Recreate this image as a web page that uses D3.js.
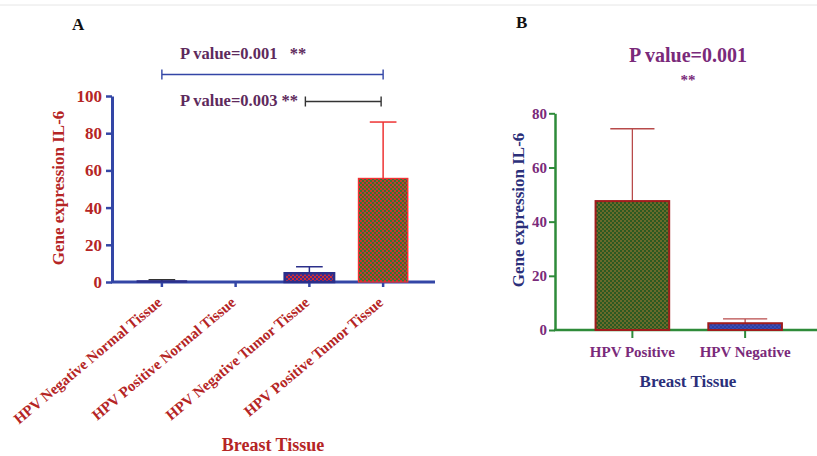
<!DOCTYPE html>
<html>
<head>
<meta charset="utf-8">
<script src="https://cdn.jsdelivr.net/npm/d3@7"></script>
<style>
  body { margin: 0; background: #fff; }
  text { font-family: "Liberation Serif", "Times New Roman", serif; font-weight: bold; }
</style>
</head>
<body>
<div id="chart"></div>
<script>
// Panel A data
var catsA = ["HPV Negative Normal Tissue", "HPV Positive Normal Tissue", "HPV Negative Tumor Tissue", "HPV Positive Tumor Tissue"];
var meansA = [0.6, 0, 4.7, 55.7];
var sdA = [0.6, 0, 3.5, 30.3];
var ticksA = [0, 20, 40, 60, 80, 100];

// Panel B data
var catsB = ["HPV Positive", "HPV Negative"];
var meansB = [47.6, 2.5];
var sdB = [26.7, 1.6];
var ticksB = [0, 20, 40, 60, 80];

var svg = d3.select("#chart")
    .append("svg")
    .attr("width", 817)
    .attr("height", 456);

// fill patterns (2px checker)
var defs = svg.append("defs");
function checker(id, c1, c2) {
    var p = defs.append("pattern")
        .attr("id", id)
        .attr("width", 4)
        .attr("height", 4)
        .attr("patternUnits", "userSpaceOnUse");
    p.append("rect").attr("width", 4).attr("height", 4).attr("fill", c1);
    p.append("rect").attr("width", 2).attr("height", 2).attr("fill", c2);
    p.append("rect").attr("x", 2).attr("y", 2).attr("width", 2).attr("height", 2).attr("fill", c2);
}
checker("greenRed", "#2f7a34", "#d0302e");
checker("greenDark", "#2c5a22", "#6a6a2a");
checker("redBlue", "#d02a3a", "#3a2f8a");
checker("blueFill", "#2f3fa0", "#3b4cb4");

// frame line at top
svg.append("line")
    .attr("x1", 0).attr("x2", 817)
    .attr("y1", 5).attr("y2", 5)
    .attr("stroke", "#e6e6e6");

// ---------------- Panel A ----------------
var yA = d3.scaleLinear().domain([0, 100]).range([282, 96]);
var xA = d3.scaleBand().domain(catsA).range([125, 420]).paddingInner(0.33).paddingOuter(0.165);

var blueA = "#3346a6";
var redA = "#b52525";

svg.append("text")
    .attr("x", 72).attr("y", 30)
    .style("font-size", "17px")
    .attr("fill", "#111")
    .text("A");

// y axis
var gyA = svg.append("g")
    .attr("transform", "translate(112,0)")
    .call(d3.axisLeft(yA).tickValues(ticksA).tickSize(6).tickSizeOuter(0));
gyA.select(".domain").attr("stroke", blueA).attr("stroke-width", 3);
gyA.selectAll(".tick line").attr("stroke", blueA).attr("stroke-width", 2.5);
gyA.selectAll(".tick text")
    .attr("fill", redA)
    .attr("x", -10)
    .style("font-size", "17px")
    .style("font-family", "Liberation Serif, serif")
    .style("font-weight", "bold");

// x axis
svg.append("line")
    .attr("x1", 111).attr("x2", 435)
    .attr("y1", yA(0)).attr("y2", yA(0))
    .attr("stroke", blueA).attr("stroke-width", 3);
svg.selectAll(".xtickA")
    .data(catsA)
    .enter()
    .append("line")
    .attr("x1", d => xA(d) + xA.bandwidth() / 2)
    .attr("x2", d => xA(d) + xA.bandwidth() / 2)
    .attr("y1", yA(0))
    .attr("y2", yA(0) + 5)
    .attr("stroke", blueA)
    .attr("stroke-width", 2.5);

svg.selectAll(".xlabA")
    .data(catsA)
    .enter()
    .append("text")
    .attr("transform", d => `translate(${xA(d) + xA.bandwidth() / 2 + 1}, ${yA(0) + 22}) rotate(-40)`)
    .attr("text-anchor", "end")
    .attr("fill", redA)
    .style("font-size", "15px")
    .text(d => d);

var fillsA = ["#2b2f8a", "none", "url(#redBlue)", "url(#greenRed)"];
var strokesA = ["#2b2f8a", "none", "#2b2f8a", "#ee3333"];
var errColA = ["#333", "none", "#2b2f8a", "#ee3333"];

// error bars
catsA.forEach(function(c, i) {
    if (meansA[i] === 0) return;
    var cx = xA(c) + xA.bandwidth() / 2;
    var capW = xA.bandwidth() * 0.27;
    svg.append("line")
        .attr("x1", cx).attr("x2", cx)
        .attr("y1", yA(meansA[i])).attr("y2", yA(meansA[i] + sdA[i]))
        .attr("stroke", errColA[i]).attr("stroke-width", 1.5);
    svg.append("line")
        .attr("x1", cx - capW).attr("x2", cx + capW)
        .attr("y1", yA(meansA[i] + sdA[i])).attr("y2", yA(meansA[i] + sdA[i]))
        .attr("stroke", errColA[i]).attr("stroke-width", 1.5);
});

// bars
svg.selectAll(".barA")
    .data(catsA)
    .enter()
    .append("rect")
    .attr("x", d => xA(d))
    .attr("width", xA.bandwidth())
    .attr("y", (d, i) => yA(meansA[i]))
    .attr("height", (d, i) => yA(0) - yA(meansA[i]))
    .attr("fill", (d, i) => fillsA[i])
    .attr("stroke", (d, i) => strokesA[i])
    .attr("stroke-width", (d, i) => i === 2 ? 2.5 : 1.2);

// significance brackets
function bracket(x1, x2, y, col) {
    svg.append("path")
        .attr("d", `M${x1},${y - 5}V${y + 5}M${x1},${y}H${x2}M${x2},${y - 5}V${y + 5}`)
        .attr("fill", "none")
        .attr("stroke", col)
        .attr("stroke-width", 1.4);
}
var c1 = xA(catsA[0]) + xA.bandwidth() / 2;
var c3 = xA(catsA[2]) + xA.bandwidth() / 2;
var c4 = xA(catsA[3]) + xA.bandwidth() / 2;
bracket(c1, c4, 74.5, "#3346a6");
bracket(c3 - 4, c4 - 2, 101.5, "#333");

svg.append("text")
    .attr("x", 180).attr("y", 59)
    .attr("fill", "#5e2a5c")
    .style("font-size", "16.5px")
    .attr("xml:space", "preserve")
    .text("P value=0.001   **");
svg.append("text")
    .attr("x", 180).attr("y", 106)
    .attr("fill", "#5e2a5c")
    .style("font-size", "16.5px")
    .text("P value=0.003 **");

// axis labels
svg.append("text")
    .attr("transform", "translate(64,188) rotate(-90)")
    .attr("text-anchor", "middle")
    .attr("fill", redA)
    .style("font-size", "17px")
    .text("Gene expression IL-6");
svg.append("text")
    .attr("x", 273).attr("y", 451)
    .attr("text-anchor", "middle")
    .attr("fill", redA)
    .style("font-size", "18px")
    .text("Breast Tissue");

// ---------------- Panel B ----------------
var yB = d3.scaleLinear().domain([0, 80]).range([330, 113.3]);
var xB = d3.scaleBand().domain(catsB).range([576, 801.5]).paddingInner(0.347).paddingOuter(0.1735);

var greenB = "#2e8b3a";
var purpleB = "#7a2a7a";
var navyB = "#2b2f7a";

svg.append("text")
    .attr("x", 516).attr("y", 28)
    .style("font-size", "17px")
    .attr("fill", "#111")
    .text("B");

var gyB = svg.append("g")
    .attr("transform", "translate(555,0)")
    .call(d3.axisLeft(yB).tickValues(ticksB).tickSize(6).tickSizeOuter(0));
gyB.select(".domain").attr("stroke", greenB).attr("stroke-width", 2.5);
gyB.selectAll(".tick line").attr("stroke", greenB).attr("stroke-width", 2);
gyB.selectAll(".tick text")
    .attr("fill", purpleB)
    .attr("x", -8)
    .style("font-size", "15px")
    .style("font-family", "Liberation Serif, serif")
    .style("font-weight", "bold");

svg.append("line")
    .attr("x1", 554).attr("x2", 817)
    .attr("y1", yB(0)).attr("y2", yB(0))
    .attr("stroke", greenB).attr("stroke-width", 2.5);

svg.selectAll(".xtickB")
    .data(catsB)
    .enter()
    .append("line")
    .attr("x1", d => xB(d) + xB.bandwidth() / 2)
    .attr("x2", d => xB(d) + xB.bandwidth() / 2)
    .attr("y1", yB(0))
    .attr("y2", yB(0) + 8)
    .attr("stroke", greenB)
    .attr("stroke-width", 2);

svg.selectAll(".xlabB")
    .data(catsB)
    .enter()
    .append("text")
    .attr("x", d => xB(d) + xB.bandwidth() / 2)
    .attr("y", 357)
    .attr("text-anchor", "middle")
    .attr("fill", purpleB)
    .style("font-size", "15px")
    .text(d => d);

var fillsB = ["url(#greenDark)", "url(#blueFill)"];
var errColB = "#b84a4a";

catsB.forEach(function(c, i) {
    var cx = xB(c) + xB.bandwidth() / 2;
    var capW = xB.bandwidth() * 0.3;
    svg.append("line")
        .attr("x1", cx).attr("x2", cx)
        .attr("y1", yB(meansB[i])).attr("y2", yB(meansB[i] + sdB[i]))
        .attr("stroke", errColB).attr("stroke-width", 1.3);
    svg.append("line")
        .attr("x1", cx - capW).attr("x2", cx + capW)
        .attr("y1", yB(meansB[i] + sdB[i])).attr("y2", yB(meansB[i] + sdB[i]))
        .attr("stroke", errColB).attr("stroke-width", 1.3);
});

svg.selectAll(".barB")
    .data(catsB)
    .enter()
    .append("rect")
    .attr("x", d => xB(d))
    .attr("width", xB.bandwidth())
    .attr("y", (d, i) => yB(meansB[i]))
    .attr("height", (d, i) => yB(0) - yB(meansB[i]))
    .attr("fill", (d, i) => fillsB[i])
    .attr("stroke", "#a01c1c")
    .attr("stroke-width", 2);

svg.append("text")
    .attr("x", 688).attr("y", 62)
    .attr("text-anchor", "middle")
    .attr("fill", purpleB)
    .style("font-size", "20px")
    .text("P value=0.001");
svg.append("text")
    .attr("x", 688).attr("y", 85)
    .attr("text-anchor", "middle")
    .attr("fill", purpleB)
    .style("font-size", "15px")
    .text("**");

svg.append("text")
    .attr("transform", "translate(524,210) rotate(-90)")
    .attr("text-anchor", "middle")
    .attr("fill", navyB)
    .style("font-size", "17px")
    .text("Gene expression IL-6");
svg.append("text")
    .attr("x", 688).attr("y", 387)
    .attr("text-anchor", "middle")
    .attr("fill", navyB)
    .style("font-size", "17px")
    .text("Breast Tissue");
</script>
</body>
</html>
